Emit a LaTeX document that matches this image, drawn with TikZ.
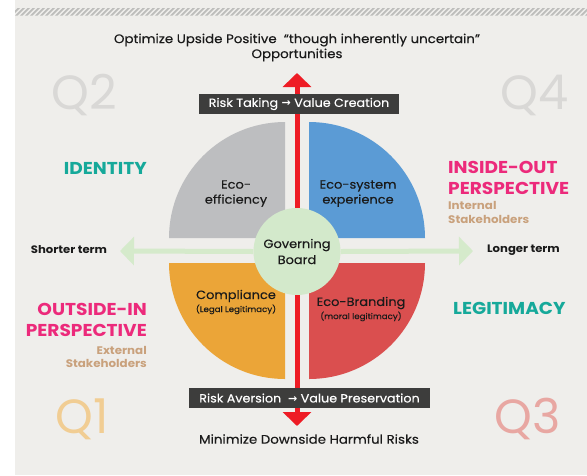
\documentclass[tikz,border=0pt]{standalone}
\usepackage{fontspec}
\setmainfont{Poppins}[FakeStretch=1.08, UprightFeatures={FakeBold=0.3}]
\newfontfamily\qfont{Poppins}
\newfontfamily\arrowfont{DejaVu Sans}
\usetikzlibrary{arrows.meta}

\definecolor{panel}{HTML}{EFEEEB}
\definecolor{hatchgray}{HTML}{BDBDBB}
\definecolor{qgray}{HTML}{BDBEC0}
\definecolor{qblue}{HTML}{5B9BD5}
\definecolor{qorange}{HTML}{EBA538}
\definecolor{qred}{HTML}{DA4F4F}
\definecolor{gbgreen}{HTML}{D3E9CB}
\definecolor{arrowred}{HTML}{EE1C25}
\definecolor{arrowgreen}{HTML}{D5EACB}
\definecolor{boxdark}{HTML}{3D3D3C}
\definecolor{tealc}{HTML}{16A99A}
\definecolor{pinkc}{HTML}{EC2A7B}
\definecolor{tanc}{HTML}{C9A17C}
\definecolor{qtwofour}{HTML}{D9D8D6}
\definecolor{qone}{HTML}{F1CD93}
\definecolor{qthree}{HTML}{E8A7A2}
\definecolor{ink}{HTML}{1A1A1A}

\newcommand{\arr}{{\arrowfont\bfseries\fontsize{11}{12}\selectfont →}}

\tikzset{
  txt/.style={inner sep=0pt, text=ink, align=center},
  qtext/.style={txt, font=\fontsize{12}{15}\selectfont},
  qsub/.style={txt, font=\fontsize{8}{9}\selectfont},
  darkbox/.style={fill=boxdark, text=white, inner sep=0pt, minimum height=20,
    font=\fontsize{11.8}{14}\selectfont},
  bigq/.style={inner sep=0pt, font=\qfont\fontsize{48}{52}\selectfont},
  headline/.style={inner sep=0pt, font=\bfseries\fontsize{17.2}{20.5}\selectfont},
  stake/.style={inner sep=0pt, text=tanc, font=\bfseries\fontsize{11}{13.5}\selectfont},
  term/.style={txt, font=\bfseries\fontsize{10.8}{12}\selectfont},
  redarrow/.style={draw=arrowred, line width=5, -{Triangle[width=28,length=14]}},
  greenarrow/.style={draw=arrowgreen, line width=5, -{Triangle[width=28,length=14]}},
}

\begin{document}
\begin{tikzpicture}[x=1pt,y=-1pt]
  % page and panel
  \fill[white] (0,0) rectangle (587,475);
  \fill[panel] (15,0) rectangle (587,475);
  \useasboundingbox (0,0) rectangle (587,475);
  % hatched band along the top
  \begin{scope}
    \clip (15,8) rectangle (587,15.5);
    \foreach \i in {-2,...,118}
      \fill[hatchgray] ({15+5*\i},15.5) -- ++(2.5,0) -- ++(7.5,-7.5) -- ++(-2.5,0) -- cycle;
  \end{scope}

  % big quadrant labels
  \node[bigq, text=qtwofour] (q2) at (84,95) {Q2};
  \node[bigq, text=qtwofour] (q4) at (535,95) {Q4};
  \node[bigq, text=qone] (q1) at (82,419) {Q1};
  \node[bigq, text=qthree] (q3) at (528,419) {Q3};

  % the four quarter discs
  \fill[qgray]   (285,238) -- ++(-116,0) arc[start angle=180, end angle=270, radius=116] -- cycle;
  \fill[qblue]   (309,238) -- ++(0,-116) arc[start angle=270, end angle=360, radius=116] -- cycle;
  \fill[qorange] (285,263) -- ++(-116,0) arc[start angle=180, end angle=90, radius=116] -- cycle;
  \fill[qred]    (309,263) -- ++(116,0) arc[start angle=0, end angle=90, radius=116] -- cycle;

  % centre
  \node[circle, fill=gbgreen, minimum size=87, inner sep=0, txt,
        font=\fontsize{12}{16}\selectfont] (gb) at (297,251.5) {Governing\\Board};

  % axis arrows
  \coordinate (toptip) at (297,73);
  \coordinate (bottip) at (297,426);
  \coordinate (lefttip) at (120,251);
  \coordinate (righttip) at (473,251);
  \draw[greenarrow] (gb.west) -- (lefttip);
  \draw[greenarrow] (gb.east) -- (righttip);
  \draw[redarrow] (gb.north) -- (toptip);
  \draw[redarrow] (gb.south) -- (bottip);

  % quadrant captions
  \node[qtext] (eff) at (236,193.5) {Eco-\\efficiency};
  \node[qtext] (sys) at (358,193.5) {Eco-system\\experience};
  \node[qtext] (comp) at (236,296) {Compliance};
  \node[qsub, anchor=north] (legal) at (comp.south) [yshift=-2] {(Legal Legitimacy)};
  \node[qtext] (brand) at (361,303) {Eco-Branding};
  \node[qsub, anchor=north] (moral) at (brand.south) [yshift=-2] {(moral legitimacy)};

  % dark banners on the vertical axis
  \node[darkbox, minimum width=200] (taking) at (299,104) {Risk Taking \arr\ Value Creation};
  \node[darkbox, minimum width=241] (aversion) at (309.5,398) {Risk Aversion \ \arr\ Value Preservation};

  % axis end captions
  \node[txt, font=\fontsize{12.4}{15}\selectfont] (upside) at (297,47.5)
    {Optimize Upside Positive \ “though inherently uncertain”\\Opportunities};
  \node[txt, font=\fontsize{12.4}{14}\selectfont] (downside) at (309,439) {Minimize Downside Harmful Risks};
  \node[term] (shorter) at (69,250) {Shorter term};
  \node[term] (longer) at (523.5,250) {Longer term};

  % side headings
  \node[headline, text=tealc, anchor=east] (identity) at (147,168) {IDENTITY};
  \node[headline, text=tealc, anchor=west] (legit) at (453,308.5) {LEGITIMACY};
  \node[headline, text=pinkc, anchor=west, align=left] (inout) at (448,178) {INSIDE-OUT\\PERSPECTIVE};
  \node[stake, anchor=west, align=left] (internal) at (448,212.5) {Internal\\Stakeholders};
  \node[headline, text=pinkc, anchor=east, align=right] (outin) at (147,320) {OUTSIDE-IN\\PERSPECTIVE};
  \node[stake, anchor=east, align=right] (external) at (147,357) {External\\Stakeholders};
\end{tikzpicture}
\end{document}
